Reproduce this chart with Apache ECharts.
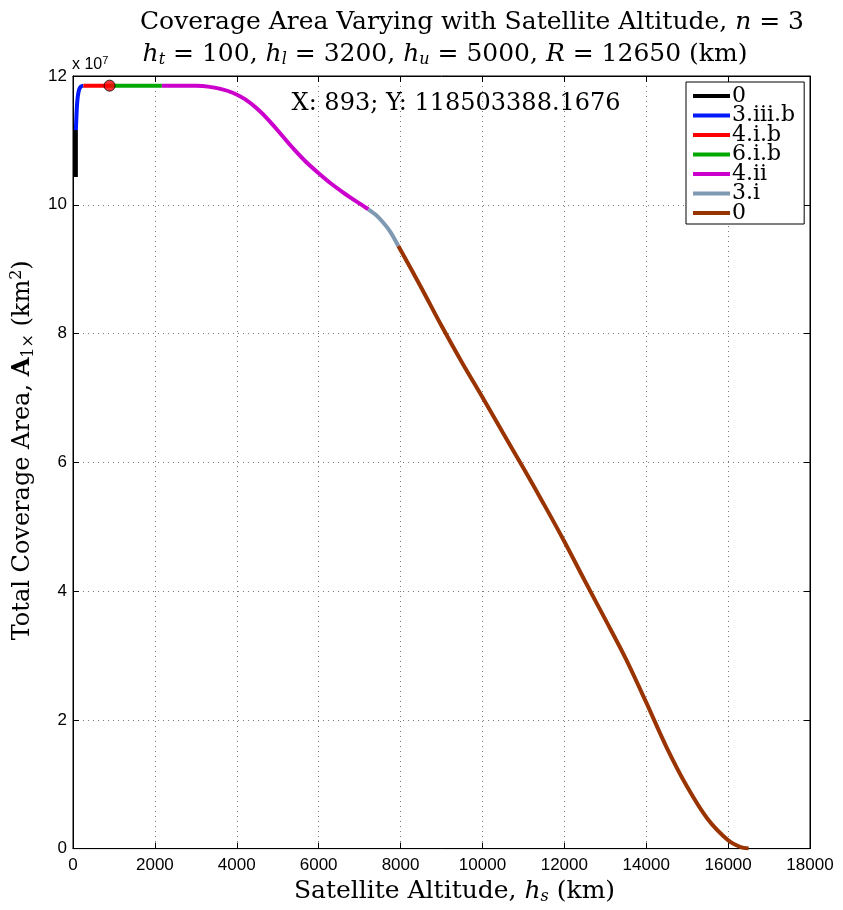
<!DOCTYPE html>
<html>
<head>
<meta charset="utf-8">
<script src="https://cdn.jsdelivr.net/npm/echarts@6/dist/echarts.min.js"></script>
<style>
  html, body { margin: 0; padding: 0; background: #fff; }
  #chart { width: 843px; height: 910px; }
</style>
</head>
<body>
<div id="chart"></div>
<script>
// Coverage area (km^2) against satellite altitude (km), split into regimes
const regimeNames = ['0', '3.iii.b', '4.i.b', '6.i.b', '4.ii', '3.i', '0\u200b'];
const regimeColors = ['#000000', '#0019ff', '#ff0000', '#00a800', '#cc00cc', '#7f99b3', '#993300'];

const altRegime0 = [70, 70, 70];
const areaRegime0 = [1.043e8, 1.080e8, 1.116e8];

const altRegime3iiib = [70, 84, 98, 117, 146, 190, 252];
const areaRegime3iiib = [1.116e8, 1.138e8, 1.155e8, 1.168e8, 1.178e8, 1.1835e8, 1.18503388e8];

const altRegime4ib = [252, 575, 900];
const areaRegime4ib = [1.18503388e8, 1.18503388e8, 1.18503388e8];

const altRegime6ib = [900, 1500, 2170];
const areaRegime6ib = [1.18503388e8, 1.18503388e8, 1.18503388e8];

const altRegime4ii = [2170, 2600, 3000, 3300, 3600, 3900, 4200, 4500, 4800, 5100, 5400, 5700, 6000, 6300, 6600, 6900, 7212];
const areaRegime4ii = [1.18503388e8, 1.185e8, 1.1848e8, 1.1835e8, 1.180e8, 1.174e8, 1.164e8, 1.149e8, 1.130e8, 1.108e8, 1.086e8, 1.066e8, 1.049e8, 1.033e8, 1.019e8, 1.006e8, 0.993e8];

const altRegime3i = [7212, 7400, 7580, 7750, 7946];
const areaRegime3i = [0.993e8, 0.984e8, 0.972e8, 0.958e8, 0.936e8];

const altRegime0b = [7946, 8500, 9000, 9500, 10000, 10500, 11000, 11500, 12000, 12500, 13000, 13500, 14000, 14500, 15000, 15500, 16000, 16300, 16500];
const areaRegime0b = [0.936e8, 0.872e8, 0.812e8, 0.755e8, 0.701e8, 0.646e8, 0.591e8, 0.535e8, 0.477e8, 0.416e8, 0.356e8, 0.295e8, 0.227e8, 0.157e8, 0.096e8, 0.046e8, 0.013e8, 0.0025e8, 0];

// Data cursor point
const cursorAlt = 893;
const cursorArea = 118503388.1676;

const xTicks = { min: 0, max: 18000, interval: 2000 };
const yTicks = { min: 0, max: 1.2e8, interval: 2e7, exponent: 7 };

const segments = [
  [altRegime0, areaRegime0],
  [altRegime3iiib, areaRegime3iiib],
  [altRegime4ib, areaRegime4ib],
  [altRegime6ib, areaRegime6ib],
  [altRegime4ii, areaRegime4ii],
  [altRegime3i, areaRegime3i],
  [altRegime0b, areaRegime0b]
];

const serif = 'DejaVu Serif';
const sans = 'Liberation Sans';

const mathRich = {
  i: { fontFamily: serif, fontStyle: 'italic', fontSize: 25, color: '#000' },
  sub: { fontFamily: serif, fontStyle: 'italic', fontSize: 16, padding: [12, 0, 0, 0], color: '#000' },
  b: { fontFamily: serif, fontWeight: 'bold', fontSize: 24, color: '#000' },
  subr: { fontFamily: serif, fontSize: 16, padding: [12, 0, 0, 0], color: '#000' },
  sup: { fontFamily: serif, fontSize: 16, padding: [0, 0, 12, 0], color: '#000' }
};

const lineSeries = segments.map(([alt, area], k) => ({
  name: regimeNames[k],
  type: 'line',
  data: alt.map((a, j) => [a, area[j]]),
  showSymbol: false,
  smooth: k === 0 ? false : 0.3,
  lineStyle: { width: 4, color: regimeColors[k] },
  itemStyle: { color: regimeColors[k] },
  z: 3
}));

const cursorSeries = {
  type: 'scatter',
  data: [[cursorAlt, cursorArea]],
  symbolSize: 11,
  itemStyle: { color: '#ff0000', borderColor: '#000', borderWidth: 1 },
  label: {
    show: true,
    position: [188, 24],
    align: 'left',
    verticalAlign: 'middle',
    fontFamily: serif,
    fontSize: 24,
    color: '#000',
    opacity: 1,
    textBorderWidth: 0,
    formatter: p => 'X: ' + p.value[0] + '; Y: ' + p.value[1].toFixed(4)
  },
  z: 5
};

const gridLine = { show: true, lineStyle: { color: '#7a7a7a', type: [1, 4], width: 1 } };
const tickLabel = { fontFamily: sans, fontSize: 17, color: '#000' };

const chart = echarts.init(document.getElementById('chart'), null, { renderer: 'canvas' });
chart.setOption({
  animation: false,
  backgroundColor: '#fff',
  title: [
    {
      text: 'Coverage Area Varying with Satellite Altitude, {i|n} = 3',
      left: 467, top: 5, textAlign: 'center',
      textStyle: { fontFamily: serif, fontSize: 25, fontWeight: 'normal', color: '#000', rich: mathRich }
    },
    {
      text: '{i|h}{sub|t} = 100, {i|h}{sub|l} = 3200, {i|h}{sub|u} = 5000, {i|R} = 12650 (km)',
      left: 440, top: 35, textAlign: 'center',
      textStyle: { fontFamily: serif, fontSize: 25, fontWeight: 'normal', color: '#000', rich: mathRich }
    }
  ],
  graphic: [
    {
      type: 'text', left: 72, top: 55,
      style: {
        text: 'x 10{e|' + yTicks.exponent + '}',
        font: '16px ' + sans, fill: '#000',
        rich: { e: { fontFamily: sans, fontSize: 11, padding: [0, 0, 9, 0], fill: '#000' } }
      }
    }
  ],
  legend: {
    data: regimeNames,
    orient: 'vertical',
    left: 686, top: 82,
    padding: [3, 9, 0, 7],
    itemGap: -2.5,
    itemWidth: 37, itemHeight: 4,
    icon: 'rect',
    backgroundColor: '#fff',
    borderColor: '#000', borderWidth: 1, borderRadius: 0,
    selectedMode: false,
    formatter: n => n.replace('\u200b', ''),
    textStyle: { fontFamily: serif, fontSize: 22, color: '#000', padding: [0, 0, 0, -3] }
  },
  grid: { left: 73, right: 33, top: 76, bottom: 60, show: true, borderColor: '#000', borderWidth: 1, backgroundColor: '#fff' },
  xAxis: [
    {
      type: 'value', min: xTicks.min, max: xTicks.max, interval: xTicks.interval,
      axisLine: { show: true, onZero: false, lineStyle: { color: '#000', width: 1 } },
      axisTick: { show: true, inside: true, length: 6, lineStyle: { color: '#000' } },
      axisLabel: Object.assign({ margin: 8, formatter: v => String(v) }, tickLabel),
      splitLine: gridLine,
      name: 'Satellite Altitude, {i|h}{sub|s} (km)',
      nameLocation: 'middle', nameGap: 23,
      nameTextStyle: { fontFamily: serif, fontSize: 25, color: '#000', padding: [0, 0, 0, 26], rich: mathRich }
    },
    {
      type: 'value', position: 'top', min: xTicks.min, max: xTicks.max, interval: xTicks.interval,
      axisLine: { show: true, onZero: false, lineStyle: { color: '#000' } },
      axisTick: { show: true, inside: true, length: 6, lineStyle: { color: '#000' } },
      axisLabel: { show: false }, splitLine: { show: false }
    }
  ],
  yAxis: [
    {
      type: 'value', min: yTicks.min, max: yTicks.max, interval: yTicks.interval,
      axisLine: { show: true, onZero: false, lineStyle: { color: '#000', width: 1 } },
      axisTick: { show: true, inside: true, length: 6, lineStyle: { color: '#000' } },
      axisLabel: Object.assign({ margin: 6, formatter: v => String(Math.round(v / Math.pow(10, yTicks.exponent))) }, tickLabel),
      splitLine: gridLine,
      name: 'Total Coverage Area, {b|A}{subr|1×} (km{sup|2})',
      nameLocation: 'middle', nameGap: 25, nameRotate: 90,
      nameTextStyle: { fontFamily: serif, fontSize: 24, color: '#000', padding: [0, 0, 0, 24], rich: mathRich }
    },
    {
      type: 'value', position: 'right', min: yTicks.min, max: yTicks.max, interval: yTicks.interval,
      axisLine: { show: true, onZero: false, lineStyle: { color: '#000' } },
      axisTick: { show: true, inside: true, length: 6, lineStyle: { color: '#000' } },
      axisLabel: { show: false }, splitLine: { show: false }
    }
  ],
  series: lineSeries.concat([cursorSeries])
});
</script>
</body>
</html>
